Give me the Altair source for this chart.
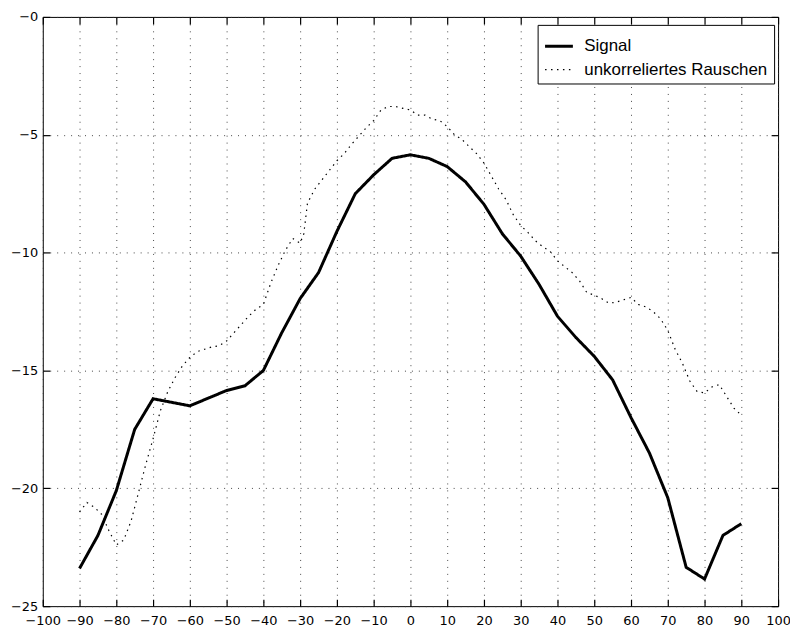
import altair as alt
import pandas as pd

signal_x = [-90, -85, -80, -75, -70, -60, -50, -45, -40, -35, -30, -25, -20, -15, -10, -5,
            0, 5, 10, 15, 20, 25, 30, 35, 40, 45, 50, 55, 60, 65, 70, 75, 80, 85, 90]
signal_y = [-23.4, -22.0, -20.1, -17.5, -16.2, -16.5, -15.85, -15.65, -15.0, -13.4, -11.95,
            -10.85, -9.1, -7.5, -6.7, -6.0, -5.85, -6.0, -6.35, -7.0, -7.95, -9.2, -10.15,
            -11.35, -12.7, -13.6, -14.4, -15.4, -17.0, -18.5, -20.4, -23.35, -23.85, -22.0, -21.5]

noise_x = [-90, -88, -86, -84, -82, -80, -78, -76, -74, -72, -70, -68, -66, -64, -62, -60,
           -58, -56, -54, -52, -50, -48, -46, -44, -42, -40, -38, -36, -34, -32, -30, -29,
           -28, -26, -24, -22, -20, -18, -16, -14, -12, -10, -8, -6, -4, -2, 0, 2, 4, 6, 8,
           10, 12, 14, 16, 18, 20, 22, 24, 26, 28, 30, 32, 34, 36, 38, 40, 42, 44, 46, 48,
           50, 52, 54, 56, 58, 60, 62, 64, 66, 68, 70, 72, 74, 76, 78, 80, 82, 84, 86, 88, 90]
noise_y = [-21.0, -20.6, -20.8, -21.1, -21.8, -22.4, -22.2, -21.4, -20.2, -19.0, -17.9, -16.7,
           -15.9, -15.3, -14.8, -14.45, -14.2, -14.1, -14.0, -13.95, -13.75, -13.4, -13.05,
           -12.7, -12.4, -12.2, -11.3, -10.55, -9.9, -9.4, -9.6, -9.2, -7.9, -7.3, -6.9,
           -6.5, -6.1, -5.8, -5.4, -5.05, -4.7, -4.4, -3.95, -3.8, -3.8, -3.88, -3.95, -4.17,
           -4.17, -4.34, -4.4, -4.65, -5.0, -5.2, -5.5, -5.8, -6.2, -6.75, -7.3, -7.75, -8.4,
           -8.85, -9.15, -9.5, -9.75, -9.95, -10.35, -10.6, -10.85, -11.2, -11.7, -11.8,
           -11.95, -12.15, -12.1, -12.0, -11.9, -12.2, -12.3, -12.5, -12.8, -13.3, -14.1,
           -14.7, -15.45, -15.9, -15.95, -15.7, -15.6, -16.1, -16.6, -16.9]

series_names = ["Signal", "unkorreliertes Rauschen"]
x_ticks = list(range(-100, 101, 10))
y_ticks = [0, -5, -10, -15, -20, -25]

W, H = 740, 593
AXIS_FONT = "DejaVu Sans"
LEGEND_FONT = "Liberation Sans"
TICK = 7

df = pd.concat([
    pd.DataFrame({"x": signal_x, "y": signal_y, "series": series_names[0]}),
    pd.DataFrame({"x": noise_x, "y": noise_y, "series": series_names[1]}),
])

xscale = alt.Scale(domain=[-100, 100], nice=False, zero=False)
yscale = alt.Scale(domain=[-25, 0], nice=False, zero=False)

# main axes: labels and dotted grid
xaxis = alt.Axis(values=x_ticks, grid=True, ticks=False, domain=False,
                 labelFlush=False, labelOverlap=False, labelPadding=8)
yaxis = alt.Axis(values=y_ticks, grid=True, ticks=False, domain=False,
                 labelOverlap=False, labelPadding=5,
                 labelExpr="datum.value == 0 ? '\u22120' : datum.label")


def tick_axis(values, orient):
    # an unlabeled axis shifted into the plot so that its ticks point inward
    return alt.Axis(values=values, orient=orient, offset=-TICK, tickSize=TICK,
                    ticks=True, tickColor="#000000", tickWidth=1.2, tickOpacity=1,
                    labels=False, grid=False, domain=False, title=None)


lines = alt.Chart(df).mark_line(strokeCap="butt", strokeJoin="miter").encode(
    x=alt.X("x:Q", scale=xscale, title=None, axis=xaxis),
    y=alt.Y("y:Q", scale=yscale, title=None, axis=yaxis),
    color=alt.Color("series:N", scale=alt.Scale(domain=series_names, range=["black", "black"]),
                    title=None),
    strokeDash=alt.StrokeDash("series:N",
                              scale=alt.Scale(domain=series_names, range=[[1, 0], [1.5, 4.5]]),
                              title=None),
    strokeWidth=alt.StrokeWidth("series:N",
                                scale=alt.Scale(domain=series_names, range=[3, 1.2]),
                                title=None),
    order="x:Q",
)

ticks_bl = alt.Chart(df).mark_point(opacity=0).encode(
    x=alt.X("x:Q", scale=xscale, axis=tick_axis(x_ticks, "bottom")),
    y=alt.Y("y:Q", scale=yscale, axis=tick_axis(y_ticks, "left")),
)
ticks_tr = alt.Chart(df).mark_point(opacity=0).encode(
    x=alt.X("x:Q", scale=xscale, axis=tick_axis(x_ticks, "top")),
    y=alt.Y("y:Q", scale=yscale, axis=tick_axis(y_ticks, "right")),
)

chart = alt.layer(lines, ticks_bl, ticks_tr).resolve_axis(
    x="independent", y="independent"
).properties(
    width=W, height=H,
    autosize=alt.AutoSizeParams(type="none"),
    padding={"left": 35, "top": 7, "right": 12, "bottom": 20},
).configure_view(
    stroke="black", strokeWidth=1
).configure_axis(
    labelFont=AXIS_FONT, labelFontSize=13, labelColor="black",
    gridColor="#333", gridDash=[1, 6], gridWidth=1, gridOpacity=0.9,
    tickColor="#000000", tickWidth=1.2,
).configure_legend(
    orient="none", legendX=498, legendY=8,
    strokeColor="black", fillColor="white", padding=6, cornerRadius=0,
    labelFont=LEGEND_FONT, labelFontSize=17, labelColor="black", labelOffset=10,
    symbolType="stroke", symbolSize=784, rowPadding=0, labelLimit=400,
)

chart.save("out.html", embed_options={"renderer": "svg", "actions": False})
